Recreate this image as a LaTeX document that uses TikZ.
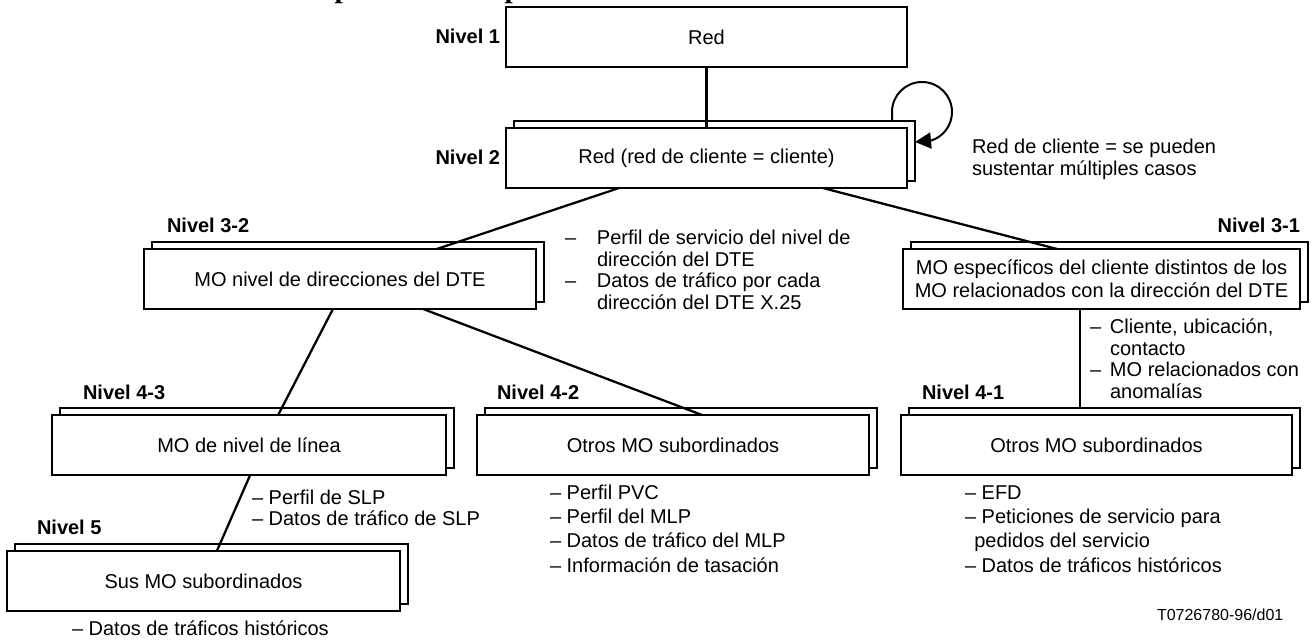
\documentclass[tikz,border=0pt]{standalone}
\usepackage{fontspec}
\setmainfont{Liberation Sans}
\newfontfamily\serifbold{Liberation Serif}
\usetikzlibrary{arrows.meta,calc}

\begin{document}
\begin{tikzpicture}[x=0.75pt,y=-0.75pt,
  every node/.style={inner sep=0pt, outer sep=0pt},
  txt/.style={font=\fontsize{15}{16.1}\selectfont},
  lvl/.style={font=\fontsize{15}{16.1}\selectfont\bfseries},
  box/.style={draw, line width=1.5pt, fill=white, minimum height=45pt,
    minimum width=#1, align=center, font=\fontsize{15}{17.25}\selectfont},
  link/.style={line width=1.7pt},
]
\useasboundingbox (0,0) rectangle (1314,641);

% heading above the figure, cut off by the page edge
\begin{scope}
  \clip (0,0) rectangle (1314,641);
  \node[font=\fontsize{22}{26}\serifbold\bfseries, anchor=base west] (tp1) at (334.6,-2.2) {p};
  \node[font=\fontsize{22}{26}\serifbold\bfseries, anchor=base west] (tp2) at (504.6,-2.2) {p};
\end{scope}

% level 1
\node[box=300.75pt] (n1) at (706.5,37) {Red};
\node[lvl, anchor=base east] (l1) at (500,44) {Nivel 1};

% level 2 (stacked)
\node[box=300.75pt] (n2b) at (714.5,151) {};
\node[box=300.75pt] (n2) at (706.5,158) {Red (red de cliente = cliente)};
\node[lvl, anchor=base east] (l2) at (500,165) {Nivel 2};

% level 3-2
\node[box=294pt] (n32b) at (348,272) {};
\node[box=294pt] (n32) at (340,279) {MO nivel de direcciones del DTE};
\node[lvl, anchor=base west] (l32) at (167,233) {Nivel 3-2};

% level 3-1
\node[box=297.75pt] (n31b) at (1109.5,272) {};
\node[box=297.75pt] (n31) at (1101.5,279) {MO específicos del cliente distintos de los\\MO relacionados con la dirección del DTE};
\node[lvl, anchor=base east] (l31) at (1300,233) {Nivel 3-1};

% level 4-3
\node[box=295.5pt] (n43b) at (257,438) {};
\node[box=295.5pt] (n43) at (249,445) {MO de nivel de línea};
\node[lvl, anchor=base west] (l43) at (83,400) {Nivel 4-3};

% level 4-2
\node[box=294pt] (n42b) at (681,438) {};
\node[box=294pt] (n42) at (673,445) {Otros MO subordinados};
\node[lvl, anchor=base west] (l42) at (497,400) {Nivel 4-2};

% level 4-1
\node[box=293.25pt] (n41b) at (1104.5,438) {};
\node[box=293.25pt] (n41) at (1096.5,445) {Otros MO subordinados};
\node[lvl, anchor=base west] (l41) at (922,400) {Nivel 4-1};

% level 5
\node[box=294.75pt] (n5b) at (211.5,574) {};
\node[box=294.75pt] (n5) at (203.5,581) {Sus MO subordinados};
\node[lvl, anchor=base west] (l5) at (37,534) {Nivel 5};

% connectors
\draw[link] (n1.south) -- (n2.north);
\draw[link] ($(n2.south west)!0.282!(n2.south east)$) -- ($(n32.north west)!0.747!(n32.north east)$);
\draw[link] ($(n2.south west)!0.79!(n2.south east)$) -- ($(n31.north west)!0.388!(n31.north east)$);
\draw[link] ($(n32.south west)!0.482!(n32.south east)$) -- ($(n43.north west)!0.574!(n43.north east)$);
\draw[link] ($(n32.south west)!0.712!(n32.south east)$) -- ($(n42.north west)!0.574!(n42.north east)$);
\coordinate (c31s) at ($(n31.south west)!0.446!(n31.south east)$);
\draw[link] (c31s) -- (c31s |- n41b.north);
\draw[link] ($(n43.south west)!0.503!(n43.south east)$) -- ($(n5.north west)!0.534!(n5.north east)$);

% self-loop on level 2
\coordinate (lpS) at ($(n2b.north east)+(-23,0)$);
\draw[line width=1.5pt] (lpS) -- ++(0,-9) arc[start angle=180,end angle=432,radius=30] coordinate (lpE);
\draw[line width=1.5pt, -{Triangle[length=12pt,width=12pt]}] (lpE) -- ($(n2b.east)+(0,-9)$);
\node[txt, anchor=base west] (lt) at (972,154)
  {\begin{tabular}[t]{@{}l@{}}Red de cliente = se pueden\\sustentar múltiples casos\end{tabular}};

% attribute lists
\node[txt, anchor=base west] (s32) at (565,245)
  {\begin{tabular}[t]{@{}l@{}l@{}}\makebox[24pt][l]{–}&Perfil de servicio del nivel de\\&dirección del DTE\\–&Datos de tráfico por cada\\&dirección del DTE X.25\end{tabular}};
\node[txt, anchor=base west] (s31) at (1090,334)
  {\begin{tabular}[t]{@{}l@{}l@{}}\makebox[15pt][l]{–}&Cliente, ubicación,\\&contacto\\–&MO relacionados con\\&anomalías\end{tabular}};
\node[txt, anchor=base west] (s43) at (252,504)
  {\begin{tabular}[t]{@{}l@{}}– Perfil de SLP\\– Datos de tráfico de SLP\end{tabular}};
\node[font=\fontsize{15}{18.3}\selectfont, anchor=base west] (s42) at (550,499)
  {\begin{tabular}[t]{@{}l@{}}– Perfil PVC\\– Perfil del MLP\\– Datos de tráfico del MLP\\– Información de tasación\end{tabular}};
\node[font=\fontsize{15}{18.3}\selectfont, anchor=base west] (s41) at (965,499)
  {\begin{tabular}[t]{@{}l@{}}– EFD\\– Peticiones de servicio para\\\hspace*{7pt}pedidos del servicio\\– Datos de tráficos históricos\end{tabular}};
\node[txt, anchor=base west] (s5) at (72,635) {– Datos de tráficos históricos};

% drawing reference
\node[font=\fontsize{12}{14}\selectfont, anchor=base west] (ref) at (1157,620) {T0726780-96/d01};
\end{tikzpicture}
\end{document}
